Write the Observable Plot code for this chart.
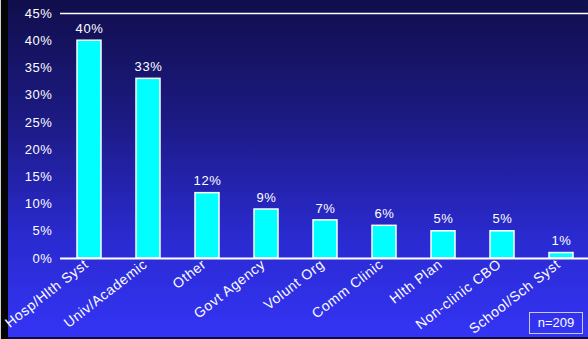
<!DOCTYPE html>
<html><head><meta charset="utf-8">
<script src="https://cdn.jsdelivr.net/npm/d3@7"></script>
<script src="https://cdn.jsdelivr.net/npm/@observablehq/plot@0.6"></script>
<style>
html,body{margin:0;padding:0;background:#000;}
#wrap{position:relative;width:588px;height:339px;overflow:hidden;
background:
 linear-gradient(to right,#cfcfcf 0 1px,#050505 1px 8px,transparent 8px),
 linear-gradient(to top,#0c0c40 0 2px,transparent 2px),
 linear-gradient(to bottom,#110e4c 0%,#1c1a82 35%,#2a2ad0 70%,#3434f6 100%);}
#wrap svg{position:absolute;left:0;top:0;background:transparent;}
#wrap svg text{letter-spacing:0.6px;}
#n{position:absolute;left:529px;top:312px;width:52px;height:20px;border:1px solid #c8c8e8;color:#fff;
font:13px "Liberation Sans",Arial,sans-serif;text-align:center;line-height:20px;box-sizing:content-box;}
</style></head>
<body>
<div id="wrap"><div id="n">n=209</div></div>
<script>
const categories = ["Hosp/Hlth Syst","Univ/Academic","Other","Govt Agency","Volunt Org","Comm Clinic","Hlth Plan","Non-clinic CBO","School/Sch Syst"];
const values = [40,33,12,9,7,6,5,5,1];
const yTicks = [0,5,10,15,20,25,30,35,40,45];

const data = categories.map((c,i)=>({cat:c, v:values[i]}));
const font = '"Liberation Sans",Arial,sans-serif';

const chart = Plot.plot({
  width:588, height:339,
  marginLeft:60, marginTop:13, marginBottom:81, marginRight:-3,
  style:{background:"transparent", color:"#fff", fontFamily:font, fontSize:"13px"},
  x:{domain:categories, paddingInner:0.59, paddingOuter:0.295, label:null},
  y:{domain:[0,45], label:null},
  marks:[
    Plot.ruleY([45],{stroke:"#fff", strokeWidth:1.5}),
    Plot.ruleX([0],{frameAnchor:"left", stroke:"#c8c8d8", strokeWidth:1}),
    Plot.barY(data,{x:"cat", y:"v", fill:"#00ffff", stroke:"#fff", strokeWidth:1.5}),
    Plot.ruleY([0],{stroke:"#fff", strokeWidth:2}),
    Plot.text(data,{x:"cat", y:"v", text:d=>d.v+"%", dy:-12, fill:"#fff", fontSize:13}),
    Plot.axisY({ticks:yTicks, tickSize:0, tickPadding:8, tickFormat:d=>d+"%", fontSize:13, label:null}),
    Plot.axisX({tickSize:0, tickPadding:4, dx:-3, tickRotate:-38, fontSize:14, label:null})
  ]
});
document.getElementById("wrap").prepend(chart);
</script>
</body></html>
